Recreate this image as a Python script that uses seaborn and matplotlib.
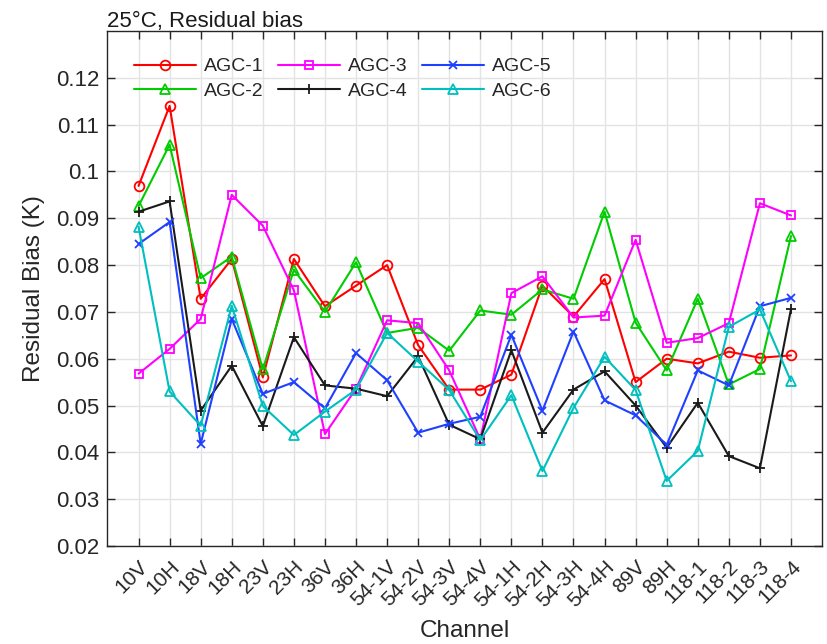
import numpy as np
import pandas as pd
import matplotlib
matplotlib.use("Agg")
import matplotlib.pyplot as plt
import seaborn as sns

channels = ["10V", "10H", "18V", "18H", "23V", "23H", "36V", "36H",
            "54-1V", "54-2V", "54-3V", "54-4V", "54-1H", "54-2H", "54-3H", "54-4H",
            "89V", "89H", "118-1", "118-2", "118-3", "118-4"]

agc1 = [0.0969, 0.1140, 0.0728, 0.0813, 0.0560, 0.0813, 0.0712, 0.0756,
        0.0800, 0.0629, 0.0534, 0.0534, 0.0566, 0.0756, 0.0690, 0.0770,
        0.0550, 0.0600, 0.0590, 0.0615, 0.0602, 0.0607]
agc2 = [0.0926, 0.1057, 0.0772, 0.0818, 0.0577, 0.0790, 0.0700, 0.0806,
        0.0655, 0.0666, 0.0617, 0.0703, 0.0694, 0.0748, 0.0728, 0.0914,
        0.0677, 0.0575, 0.0728, 0.0545, 0.0578, 0.0862]
agc3 = [0.0568, 0.0621, 0.0685, 0.0950, 0.0884, 0.0746, 0.0439, 0.0536,
        0.0682, 0.0676, 0.0575, 0.0428, 0.0740, 0.0776, 0.0688, 0.0692,
        0.0854, 0.0634, 0.0644, 0.0676, 0.0932, 0.0906]
agc4 = [0.0914, 0.0936, 0.0489, 0.0585, 0.0456, 0.0646, 0.0543, 0.0536,
        0.0520, 0.0605, 0.0459, 0.0428, 0.0618, 0.0442, 0.0534, 0.0573,
        0.0500, 0.0410, 0.0506, 0.0392, 0.0366, 0.0706]
agc5 = [0.0845, 0.0892, 0.0418, 0.0685, 0.0525, 0.0550, 0.0494, 0.0612,
        0.0554, 0.0442, 0.0461, 0.0476, 0.0651, 0.0489, 0.0658, 0.0511,
        0.0479, 0.0416, 0.0575, 0.0543, 0.0712, 0.0730]
agc6 = [0.0882, 0.0530, 0.0457, 0.0713, 0.0499, 0.0437, 0.0487, 0.0534,
        0.0655, 0.0594, 0.0533, 0.0426, 0.0522, 0.0360, 0.0495, 0.0604,
        0.0533, 0.0339, 0.0403, 0.0668, 0.0705, 0.0552]

names = ["AGC-1", "AGC-2", "AGC-3", "AGC-4", "AGC-5", "AGC-6"]
colors = ["#ff0000", "#00cc00", "#ff00ff", "#1a1a1a", "#2040ff", "#00bfbf"]
markers = ["o", "^", "s", "+", "x", "^"]
msizes = {"o": 7, "^": 7.5, "s": 6, "+": 7, "x": 5.5}

sns.set_style("ticks")
plt.rcParams["font.family"] = ["Liberation Sans", "DejaVu Sans"]

fig = plt.figure(figsize=(8.28, 6.44), dpi=100)
ax = fig.add_axes([0.1298, 0.1522, 0.8630, 0.7997])

x = np.arange(1, len(channels) + 1)
series = [agc1, agc2, agc3, agc4, agc5, agc6]
for name, vals, c, m in zip(names, series, colors, markers):
    df = pd.DataFrame({"pos": x, "bias": vals})
    sns.lineplot(data=df, x="pos", y="bias", ax=ax, color=c, marker=m,
                 markersize=msizes[m], markerfacecolor="none", markeredgecolor=c,
                 markeredgewidth=1.3, linewidth=1.5, label=name)

ax.set_xlim(0, len(channels) + 1)
ax.set_ylim(0.02, 0.13)
ax.set_xticks(x)
yt = np.arange(0.02, 0.1201, 0.01)
ax.set_yticks(yt)
ax.tick_params(direction="in", length=6, width=1, top=True, right=True,
               colors="#262626", labelcolor="#262626")
ax.tick_params(axis="x", pad=8)
ax.tick_params(axis="y", pad=6)
ax.set_xticklabels(channels, rotation=45, ha="right", va="top",
                   rotation_mode="anchor", fontsize=15)
ax.set_yticklabels([f"{v:g}" for v in np.round(yt, 2)], fontsize=16)
ax.grid(True, color="#e3e3e3", linewidth=1)
ax.set_axisbelow(True)
for s in ax.spines.values():
    s.set_visible(True)
    s.set_color("#262626")
    s.set_linewidth(1)

ax.set_xlabel("Channel", fontsize=17.5, color="#262626", labelpad=7)
ax.set_ylabel("Residual Bias (K)", fontsize=17.5, color="#262626", labelpad=8)
ax.set_title("25°C, Residual bias", loc="left", fontsize=16, pad=3, color="#1a1a1a")

leg = ax.legend(ncol=3, frameon=False, loc="upper left", bbox_to_anchor=(0.012, 0.982),
                fontsize=14, handlelength=3.2, columnspacing=0.75, handletextpad=0.4,
                labelspacing=0.35)

fig.savefig("out.png", dpi=100)
